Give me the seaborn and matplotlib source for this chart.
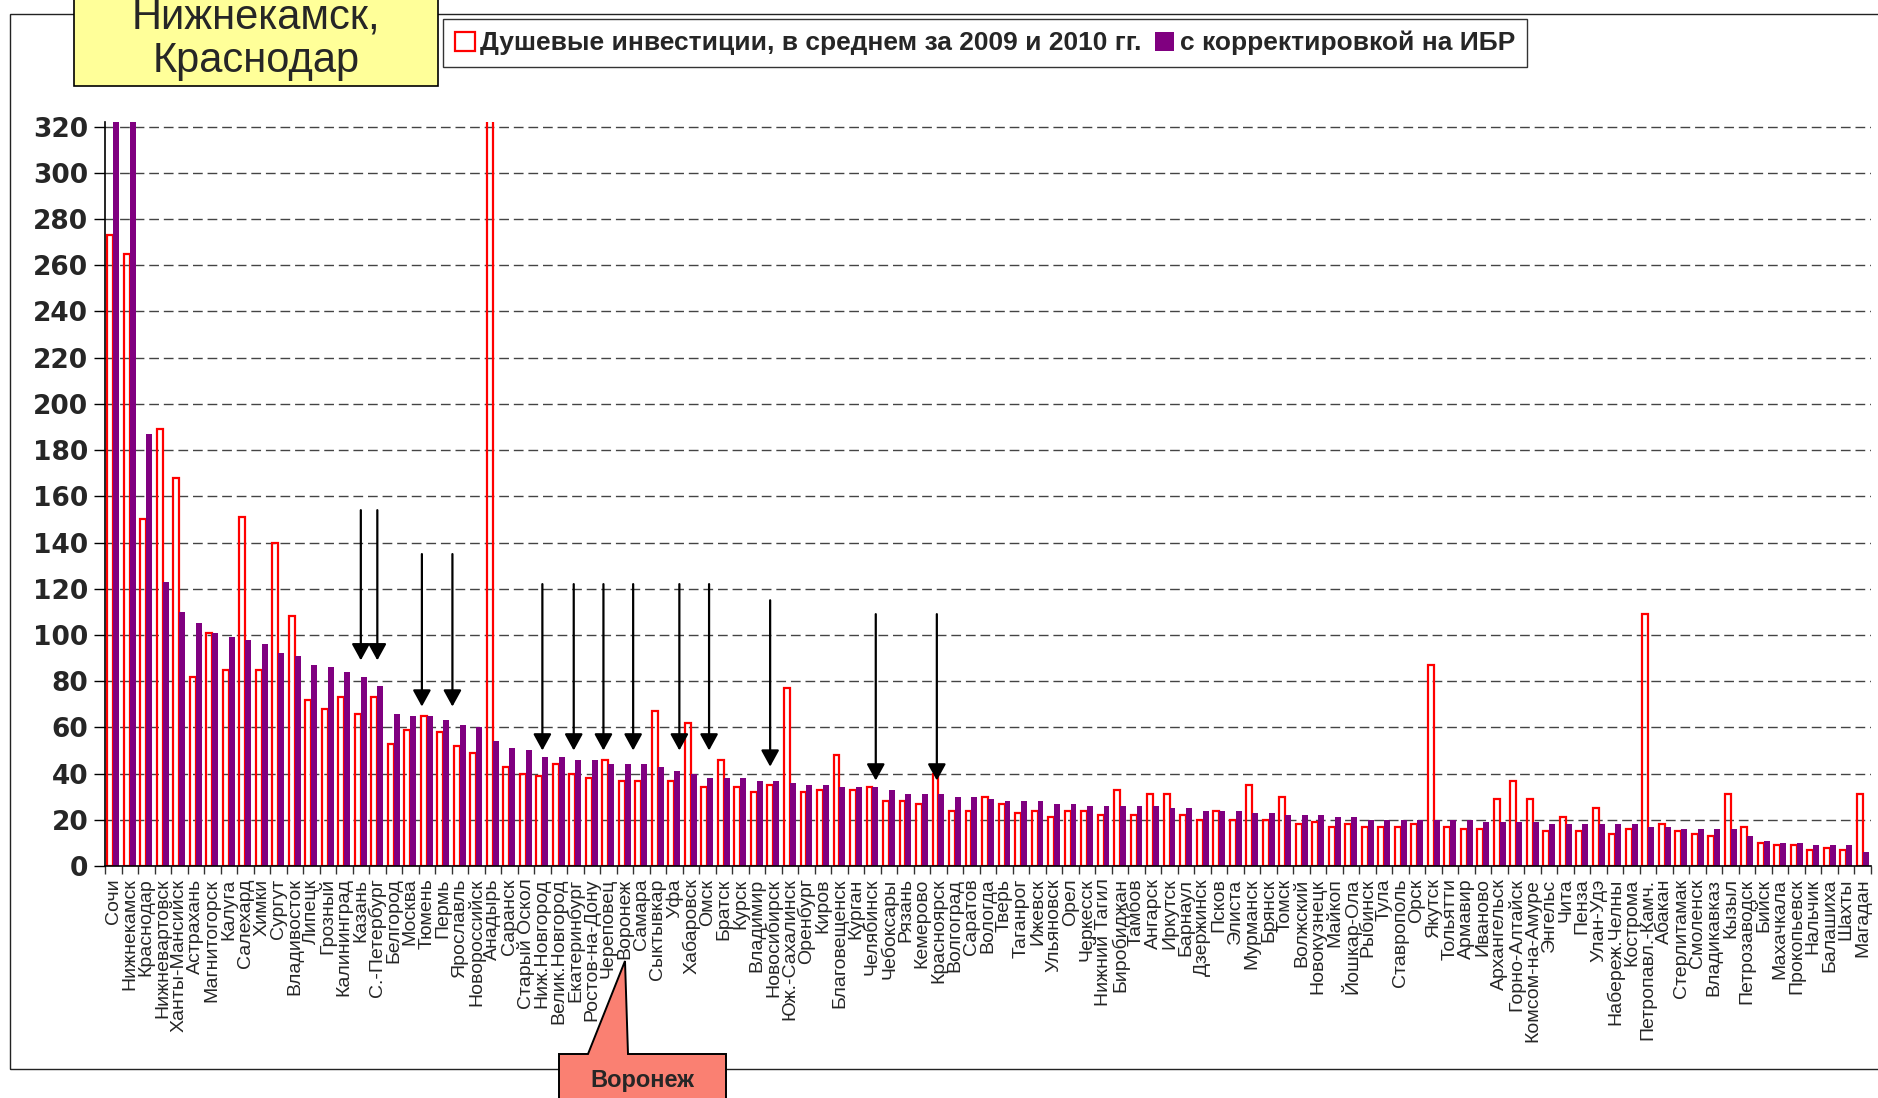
import numpy as np
import pandas as pd
import seaborn as sns
import matplotlib.pyplot as plt
from matplotlib.patches import Rectangle, Polygon, Patch

# города в порядке убывания скорректированных инвестиций
cities = [
    "Сочи", "Нижнекамск", "Краснодар", "Нижневартовск", "Ханты-Мансийск",
    "Астрахань", "Магнитогорск", "Калуга", "Салехард", "Химки", "Сургут",
    "Владивосток", "Липецк", "Грозный", "Калининград", "Казань",
    "С.-Петербург", "Белгород", "Москва", "Тюмень", "Пермь", "Ярославль",
    "Новороссийск", "Анадырь", "Саранск", "Старый Оскол", "Ниж.Новгород",
    "Велик.Новгород", "Екатеринбург", "Ростов-на-Дону", "Череповец",
    "Воронеж", "Самара", "Сыктывкар", "Уфа", "Хабаровск", "Омск", "Братск",
    "Курск", "Владимир", "Новосибирск", "Юж.-Сахалинск", "Оренбург",
    "Киров", "Благовещенск", "Курган", "Челябинск", "Чебоксары", "Рязань",
    "Кемерово", "Красноярск", "Волгоград", "Саратов", "Вологда", "Тверь",
    "Таганрог", "Ижевск", "Ульяновск", "Орел", "Черкесск", "Нижний Тагил",
    "Биробиджан", "Тамбов", "Ангарск", "Иркутск", "Барнаул", "Дзержинск",
    "Псков", "Элиста", "Мурманск", "Брянск", "Томск", "Волжский",
    "Новокузнецк", "Майкоп", "Йошкар-Ола", "Рыбинск", "Тула", "Ставрополь",
    "Орск", "Якутск", "Тольятти", "Армавир", "Иваново", "Архангельск",
    "Горно-Алтайск", "Комсом-на-Амуре", "Энгельс", "Чита", "Пенза",
    "Улан-Удэ", "Набереж.Челны", "Кострома", "Петропавл.-Камч.", "Абакан",
    "Стерлитамак", "Смоленск", "Владикавказ", "Кызыл", "Петрозаводск",
    "Бийск", "Махачкала", "Прокопьевск", "Нальчик", "Балашиха", "Шахты",
    "Магадан",
]

# душевые инвестиции, в среднем за 2009 и 2010 гг.
invest = [
    273, 265, 150, 189, 168, 82, 101, 85, 151, 85, 140, 108, 72, 68, 73, 66,
    73, 53, 59, 65, 58, 52, 49, 340, 43, 40, 39, 44, 40, 38, 46, 37, 37, 67,
    37, 62, 34, 46, 34, 32, 35, 77, 32, 33, 48, 33, 34, 28, 28, 27, 40, 24,
    24, 30, 27, 23, 24, 21, 24, 24, 22, 33, 22, 31, 31, 22, 20, 24, 20, 35,
    20, 30, 18, 19, 17, 18, 17, 17, 17, 18, 87, 17, 16, 16, 29, 37, 29, 15,
    21, 15, 25, 14, 16, 109, 18, 15, 14, 13, 31, 17, 10, 9, 9, 7, 8, 7, 31,
]

# с корректировкой на ИБР
adjusted = [
    340, 340, 187, 123, 110, 105, 101, 99, 98, 96, 92, 91, 87, 86, 84, 82,
    78, 66, 65, 65, 63, 61, 60, 54, 51, 50, 47, 47, 46, 46, 44, 44, 44, 43,
    41, 40, 38, 38, 38, 37, 37, 36, 35, 35, 34, 34, 34, 33, 31, 31, 31, 30,
    30, 29, 28, 28, 28, 27, 27, 26, 26, 26, 26, 26, 25, 25, 24, 24, 24, 23,
    23, 22, 22, 22, 21, 21, 20, 20, 20, 20, 20, 20, 20, 19, 19, 19, 19, 18,
    18, 18, 18, 18, 18, 17, 17, 16, 16, 16, 16, 13, 11, 10, 10, 9, 9, 9, 6,
]

series_names = ["Душевые инвестиции, в среднем за 2009 и 2010 гг.",
                "с корректировкой на ИБР"]

# стрелки-указатели: (позиция по оси категорий, начало, острие)
arrow_marks = [
    (15.0, 154, 89), (16.0, 154, 89),
    (18.7, 135, 69), (20.55, 135, 69),
    (26.0, 122, 50), (27.9, 122, 50), (29.7, 122, 50), (31.5, 122, 50),
    (34.3, 122, 50), (36.1, 122, 50),
    (39.8, 115, 43),
    (46.2, 109, 37), (49.9, 109, 37),
]

n = len(cities)
df = pd.DataFrame({
    "city": cities * 2,
    "series": [series_names[0]] * n + [series_names[1]] * n,
    "value": invest + adjusted,
})

sns.set_theme(style="white")
plt.rcParams["font.family"] = ["Liberation Sans", "DejaVu Sans"]

W, H = 1878, 1098
fig = plt.figure(figsize=(W / 100, H / 100), dpi=100)
ax = fig.add_axes([105 / W, 1 - 866 / H, (1871 - 105) / W, (866 - 122) / H])

sns.barplot(data=df, x="city", y="value", hue="series", order=cities,
            hue_order=series_names, palette=["white", "#800080"],
            width=0.72, saturation=1, errorbar=None, legend=False, ax=ax)

for bar in ax.containers[0]:
    bar.set_facecolor("none")
    bar.set_edgecolor("#FF0000")
    bar.set_linewidth(1.6)
for bar in ax.containers[1]:
    bar.set_edgecolor("none")

ax.set_ylim(0, 322)
ax.set_xlim(-0.5, n - 0.5)
ax.set_xlabel("")
ax.set_ylabel("")

# ось Y
ax.set_yticks(range(0, 321, 20))
ax.set_yticklabels([str(v) for v in range(0, 321, 20)],
                   fontsize=19, fontweight="bold", family="DejaVu Sans")
ax.tick_params(axis="y", left=True, length=8, width=1, color="black",
               direction="out", pad=4)

# ось X: подписи по центрам, засечки между категориями
ax.set_xticks(range(n))
ax.set_xticklabels(cities, rotation=90, fontsize=14)
ax.set_xticks(np.arange(-0.5, n, 1), minor=True)
ax.tick_params(axis="x", which="major", length=0, pad=9)
ax.tick_params(axis="x", which="minor", bottom=True, length=6, width=1,
               color="#333333", direction="out")

for side in ["top", "right"]:
    ax.spines[side].set_visible(False)
for side in ["left", "bottom"]:
    ax.spines[side].set_color("black")
    ax.spines[side].set_linewidth(1.2)

ax.grid(axis="y", color="#444444", linestyle=(0, (7, 3.5)), linewidth=1)
ax.set_axisbelow(True)

for xpos, top, tip in arrow_marks:
    ax.annotate("", xy=(xpos, tip), xytext=(xpos, top),
                arrowprops=dict(arrowstyle="-|>,head_width=0.55,head_length=1.0",
                                color="black", lw=1.6, mutation_scale=10,
                                shrinkA=0, shrinkB=0))

# легенда
handles = [Patch(facecolor="white", edgecolor="#FF0000", linewidth=1.6),
           Patch(facecolor="#800080", edgecolor="none")]
leg = fig.legend(handles, series_names, loc="upper left",
                 bbox_to_anchor=(443 / W, 1 - 19 / H), ncol=2, frameon=True,
                 fancybox=False, edgecolor="black", handlelength=0.75,
                 handleheight=0.75, handletextpad=0.2, columnspacing=0.5,
                 borderpad=0.45, borderaxespad=0,
                 prop={"weight": "bold", "size": 19})
leg.get_frame().set_linewidth(1)


def fxy(x, y):
    return (x / W, 1 - y / H)


# рамка области диаграммы
fig.add_artist(Rectangle(fxy(10, 1069), 1.0, (1069 - 14) / H,
                         transform=fig.transFigure, fill=False,
                         edgecolor="#222222", lw=1, zorder=0))

# жёлтая плашка
fig.add_artist(Rectangle(fxy(74, 86), (438 - 74) / W, 100 / H,
                         transform=fig.transFigure, facecolor="#FFFF99",
                         edgecolor="black", lw=1.2, zorder=5))
fig.text(*fxy(256, 39), "Нижнекамск,\nКраснодар", ha="center", va="center",
         fontsize=30, linespacing=1.12, zorder=6)

# выноска "Воронеж"
callout = [fxy(559, 1054), fxy(588, 1054), fxy(625, 961), fxy(628, 1054),
           fxy(726, 1054), fxy(726, 1110), fxy(559, 1110)]
fig.add_artist(Polygon(callout, closed=True, transform=fig.transFigure,
                       facecolor="#FA8072", edgecolor="black", lw=1.4,
                       zorder=5))
fig.text(*fxy(642, 1081), "Воронеж", ha="center", va="center",
         fontsize=17, fontweight="bold", zorder=6)

fig.savefig("out.png", dpi=100)
